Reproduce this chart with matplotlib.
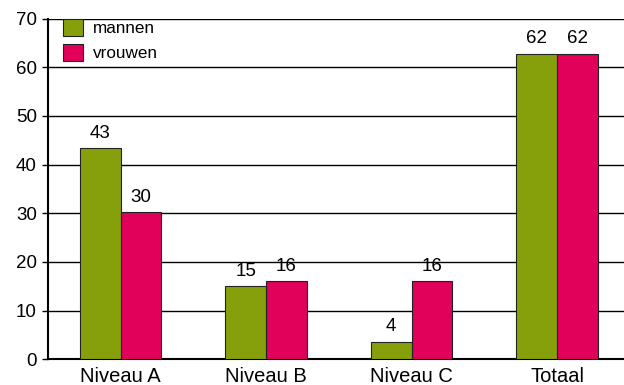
import matplotlib
matplotlib.use("Agg")
import matplotlib.pyplot as plt
import numpy as np

categories = ["Niveau A", "Niveau B", "Niveau C", "Totaal"]
series_names = ["mannen", "vrouwen"]
mannen = [43.4, 15.0, 3.6, 62.8]
vrouwen = [30.2, 16.0, 16.0, 62.8]
mannen_labels = ["43", "15", "4", "62"]
vrouwen_labels = ["30", "16", "16", "62"]
yticks = [0, 10, 20, 30, 40, 50, 60, 70]

green = "#86A00C"
pink = "#E1005A"

plt.rcParams['font.family'] = ['Liberation Sans', 'DejaVu Sans']

fig = plt.figure(figsize=(6.24, 3.85), dpi=100)
ax = fig.add_axes([48/624, 1 - 359.2/385, (624-48)/624, (359.2-18.5)/385])

x = np.arange(len(categories))
w = 0.28
b1 = ax.bar(x - w/2, mannen, w, color=green, edgecolor="#222222", linewidth=0.8, label=series_names[0], zorder=3)
b2 = ax.bar(x + w/2, vrouwen, w, color=pink, edgecolor="#222222", linewidth=0.8, label=series_names[1], zorder=3)

for rect, lab in zip(b1, mannen_labels):
    ax.text(rect.get_x() + rect.get_width()/2, rect.get_height() + 1.3, lab,
            ha="center", va="bottom", fontsize=13.5)
for rect, lab in zip(b2, vrouwen_labels):
    ax.text(rect.get_x() + rect.get_width()/2, rect.get_height() + 1.3, lab,
            ha="center", va="bottom", fontsize=13.5)

ax.set_xlim(-0.5, 3.46)
ax.set_ylim(0, 70)
ax.set_yticks(yticks)
ax.set_xticks(x)
ax.set_xticklabels(categories, fontsize=14.5)
ax.tick_params(axis="y", labelsize=13.5, length=4, width=1, pad=4)
ax.tick_params(axis="x", length=0, pad=5.5)
ax.yaxis.grid(True, color="black", linewidth=1, zorder=0)
ax.set_axisbelow(True)
for s in ["top", "right"]:
    ax.spines[s].set_visible(False)
ax.spines["left"].set_linewidth(1.5)
ax.spines["bottom"].set_linewidth(1.5)

leg = ax.legend(loc="upper left", bbox_to_anchor=(0.015, 1.018), frameon=False,
                fontsize=12.3, handlelength=1.15, handleheight=1.15, handletextpad=0.55,
                labelspacing=0.45, borderaxespad=0)

fig.savefig("out.png", dpi=100)
